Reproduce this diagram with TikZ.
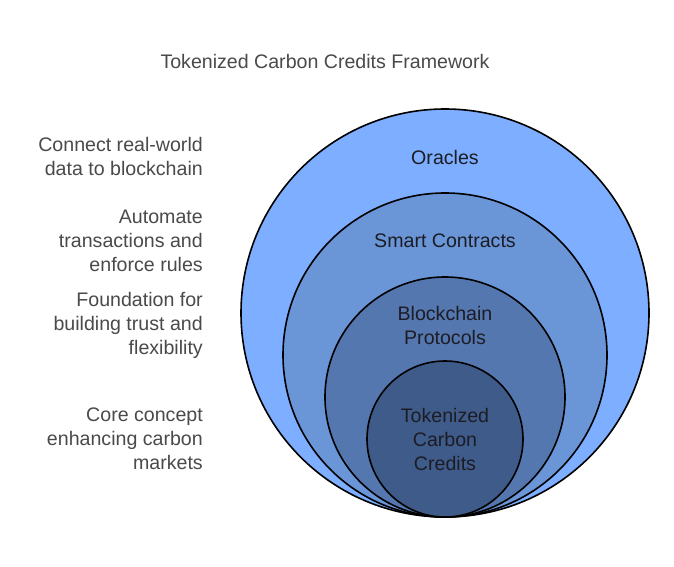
\documentclass[tikz,border=0pt]{standalone}
\usepackage{fontspec}
\setmainfont{Liberation Sans}
\definecolor{cOne}{HTML}{7DAEFF}
\definecolor{cTwo}{HTML}{6A96D8}
\definecolor{cThree}{HTML}{5577B0}
\definecolor{cFour}{HTML}{3F5B8A}
\definecolor{txtgray}{HTML}{4A4A4A}
\definecolor{txtdark}{HTML}{1C1C24}
\begin{document}
\begin{tikzpicture}[x=1pt,y=-1pt,
  ring/.style={draw=black,line width=1.6pt},
  desc/.style={align=right,anchor=east,text=txtgray,font=\fontsize{19.6}{24}\selectfont,inner sep=0pt},
  lab/.style={align=center,text=txtdark,font=\fontsize{19.6}{24}\selectfont,inner sep=0pt},
  ttl/.style={text=txtgray,font=\fontsize{19.6}{24}\selectfont,inner sep=0pt}]
\useasboundingbox[fill=white] (0,0) rectangle (674,567);
\node[ttl] (title) at (325,61) {Tokenized Carbon Credits Framework};
\filldraw[ring,fill=cOne] (445,313) circle (204pt);
\filldraw[ring,fill=cTwo] (445,355) circle (162pt);
\filldraw[ring,fill=cThree] (445,397) circle (120pt);
\filldraw[ring,fill=cFour] (445,439) circle (78pt);
\node[lab] (oracles) at (445,157) {Oracles};
\node[lab] (smart) at (445,241) {Smart Contracts};
\node[lab] (block) at (445,325) {Blockchain\\Protocols};
\node[lab] (token) at (445,439) {Tokenized\\Carbon\\Credits};
\node[desc] (d1) at (203,156) {Connect real-world\\data to blockchain};
\node[desc] (d2) at (203,241) {Automate\\transactions and\\enforce rules};
\node[desc] (d3) at (203,325) {Foundation for\\building trust and\\flexibility};
\node[desc] (d4) at (203,439) {Core concept\\enhancing carbon\\markets};
\end{tikzpicture}
\end{document}
